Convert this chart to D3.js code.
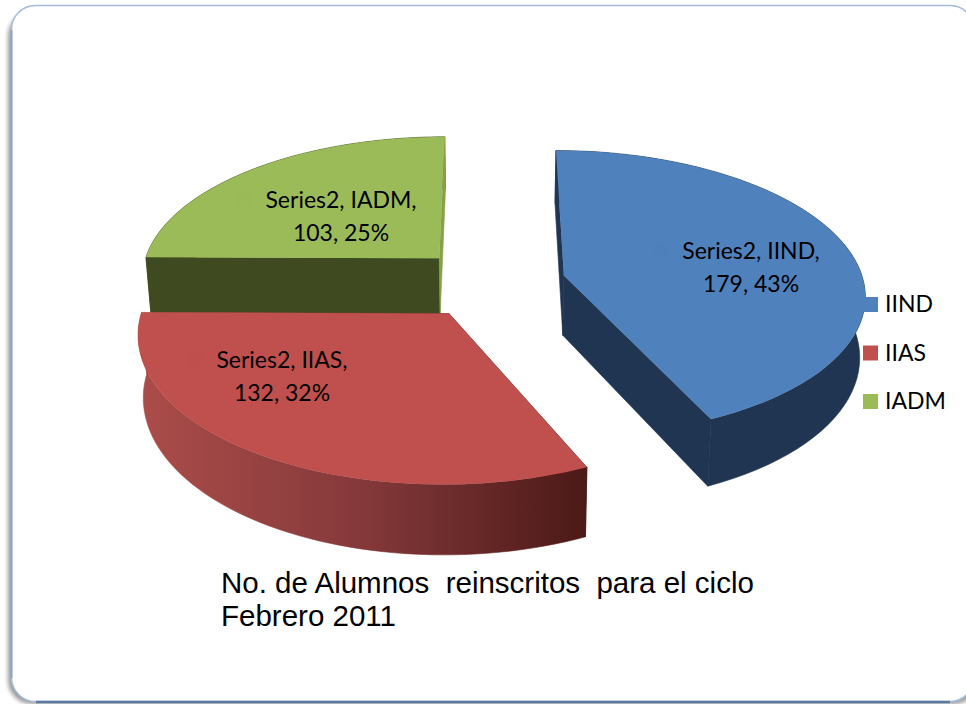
<!DOCTYPE html>
<html>
<head>
<meta charset="utf-8">
<style>
  html, body { margin: 0; padding: 0; background: #fff; overflow: hidden; }
  text { white-space: pre; }
  .pieLabel, .legendLabel { font-family: Lato, "Open Sans", sans-serif; fill: #000; }
  .caption { font-family: "Liberation Sans", Arial, sans-serif; fill: #000; }
</style>
</head>
<body>
<div class="chart"></div>
<script src="https://d3js.org/d3.v7.min.js"></script>
<script>
  // datos
  const categories = ['IIND', 'IIAS', 'IADM'];
  const values = [179, 132, 103];
  const percents = ['43%', '32%', '25%'];
  const seriesName = 'Series2';
  const captionLines = ['No. de Alumnos  reinscritos  para el ciclo', 'Febrero 2011'];

  const topColors = ['#4f81bd', '#c0504d', '#9bbb59'];
  const sideColors = ['#1f3551', '#7f3432', '#3f4a20'];

  const svgWidth = 966, svgHeight = 704;
  const svg = d3.select('.chart').append('svg')
    .attr('width', svgWidth)
    .attr('height', svgHeight);

  const defs = svg.append('defs');
  const blur = defs.append('filter').attr('id', 'frameShadow')
    .attr('x', '-5%').attr('y', '-5%').attr('width', '110%').attr('height', '110%');
  blur.append('feGaussianBlur').attr('stdDeviation', 2);

  const redSide = defs.append('linearGradient').attr('id', 'redSide')
    .attr('gradientUnits', 'userSpaceOnUse')
    .attr('x1', 146).attr('x2', 587).attr('y1', 0).attr('y2', 0);
  redSide.append('stop').attr('offset', '0%').attr('stop-color', '#aa4c49');
  redSide.append('stop').attr('offset', '50%').attr('stop-color', '#84383a');
  redSide.append('stop').attr('offset', '100%').attr('stop-color', '#4b1916');

  // marco redondeado
  svg.append('rect')
    .attr('x', 8).attr('y', 12).attr('width', 970).attr('height', 692).attr('rx', 24)
    .attr('fill', '#555').attr('opacity', 0.6).attr('filter', 'url(#frameShadow)');
  svg.append('rect')
    .attr('x', 11.5).attr('y', 5.5).attr('width', 962.5).attr('height', 696).attr('rx', 24)
    .attr('fill', '#fff').attr('stroke', '#a3bcdb').attr('stroke-width', 1.5);
  svg.append('path')
    .attr('d', 'M11.5,30V678').attr('stroke', '#8ba6c8').attr('stroke-width', 2).attr('fill', 'none');
  svg.append('path')
    .attr('d', 'M36,702H950').attr('stroke', '#5b7aa0').attr('stroke-width', 2.5).attr('fill', 'none');

  // proyeccion del pastel 3D
  const centerX = 491, centerY = 283, radiusX = 300, radiusY = 142;
  const perspective = 0.122, explode = 0.25, depth = 60, shrink = 0.985;

  function project(wx, wy, lower) {
    const k = 1 / (1 - perspective * wy);
    const x = wx * radiusX * k * (lower ? shrink : 1);
    const y = wy * radiusY * k + (lower ? depth * k : 0);
    return [centerX + x, centerY + y];
  }

  const pie = d3.pie().sort(null)(values);
  const line = d3.line();

  function arcPoints(d, lower) {
    const mid = (d.startAngle + d.endAngle) / 2;
    const ox = Math.sin(mid) * explode, oy = -Math.cos(mid) * explode;
    const steps = d3.range(0, 61).map(i => d.startAngle + (d.endAngle - d.startAngle) * i / 60);
    return {
      center: project(ox, oy, lower),
      arc: steps.map(a => project(ox + Math.sin(a), oy - Math.cos(a), lower))
    };
  }

  // de atras hacia adelante: IADM, IIAS, IIND
  const drawOrder = [2, 1, 0];
  const pieGroup = svg.append('g');

  drawOrder.forEach(i => {
    const d = pie[i];
    const top = arcPoints(d, false);
    const low = arcPoints(d, true);
    const side = i === 1 ? 'url(#redSide)' : sideColors[i];
    const g = pieGroup.append('g').attr('class', 'slice-' + categories[i]);

    // pared exterior
    g.append('path')
      .attr('d', line(top.arc.concat(low.arc.slice().reverse())) + 'Z')
      .attr('fill', side)
      .attr('stroke', side)
      .attr('stroke-width', 0.6);

    // paredes radiales (la derecha de IADM se ve como franja clara)
    [top.arc[0], top.arc[top.arc.length - 1]].forEach((p, j) => {
      const q = j === 0 ? low.arc[0] : low.arc[low.arc.length - 1];
      const wall = (i === 2 && j === 1) ? '#84a24a' : side;
      g.append('path')
        .attr('d', line([top.center, p, q, low.center]) + 'Z')
        .attr('fill', wall)
        .attr('stroke', wall)
        .attr('stroke-width', 0.6);
    });

    // cara superior
    g.append('path')
      .attr('d', line([top.center].concat(top.arc)) + 'Z')
      .attr('fill', topColors[i]);
  });

  // etiquetas de datos, con su clave casi invisible
  const labelAnchors = [[751, 259], [282, 368], [341, 208]];
  const labelGroup = svg.append('g');
  categories.forEach((c, i) => {
    const t = labelGroup.append('text')
      .attr('class', 'pieLabel')
      .attr('text-anchor', 'middle')
      .attr('font-size', 23);
    const first = t.append('tspan').attr('x', labelAnchors[i][0]).attr('y', labelAnchors[i][1])
      .text(seriesName + ', ' + c + ',');
    t.append('tspan').attr('x', labelAnchors[i][0]).attr('y', labelAnchors[i][1] + 33)
      .text(values[i] + ', ' + percents[i]);
    const textLeft = labelAnchors[i][0] - first.node().getComputedTextLength() / 2;
    labelGroup.append('rect')
      .attr('x', textLeft - 28).attr('y', labelAnchors[i][1] - 16)
      .attr('width', 14).attr('height', 14)
      .attr('fill', d3.color(topColors[i]).darker(0.02));
  });

  // leyenda
  const legendY = d3.scalePoint().domain(categories).range([297, 394]);
  const legend = svg.append('g').selectAll('g').data(categories).join('g')
    .attr('transform', d => `translate(863, ${legendY(d)})`);
  legend.append('rect')
    .attr('width', 15).attr('height', 15)
    .attr('fill', (d, i) => topColors[i]);
  legend.append('text')
    .attr('class', 'legendLabel')
    .attr('x', 22).attr('y', 15)
    .attr('font-size', 23)
    .text(d => d);

  // titulo inferior
  svg.append('g').selectAll('text').data(captionLines).join('text')
    .attr('class', 'caption')
    .attr('x', 221)
    .attr('y', (d, i) => 593 + i * 33)
    .attr('font-size', 29.5)
    .text(d => d);
</script>
</body>
</html>
